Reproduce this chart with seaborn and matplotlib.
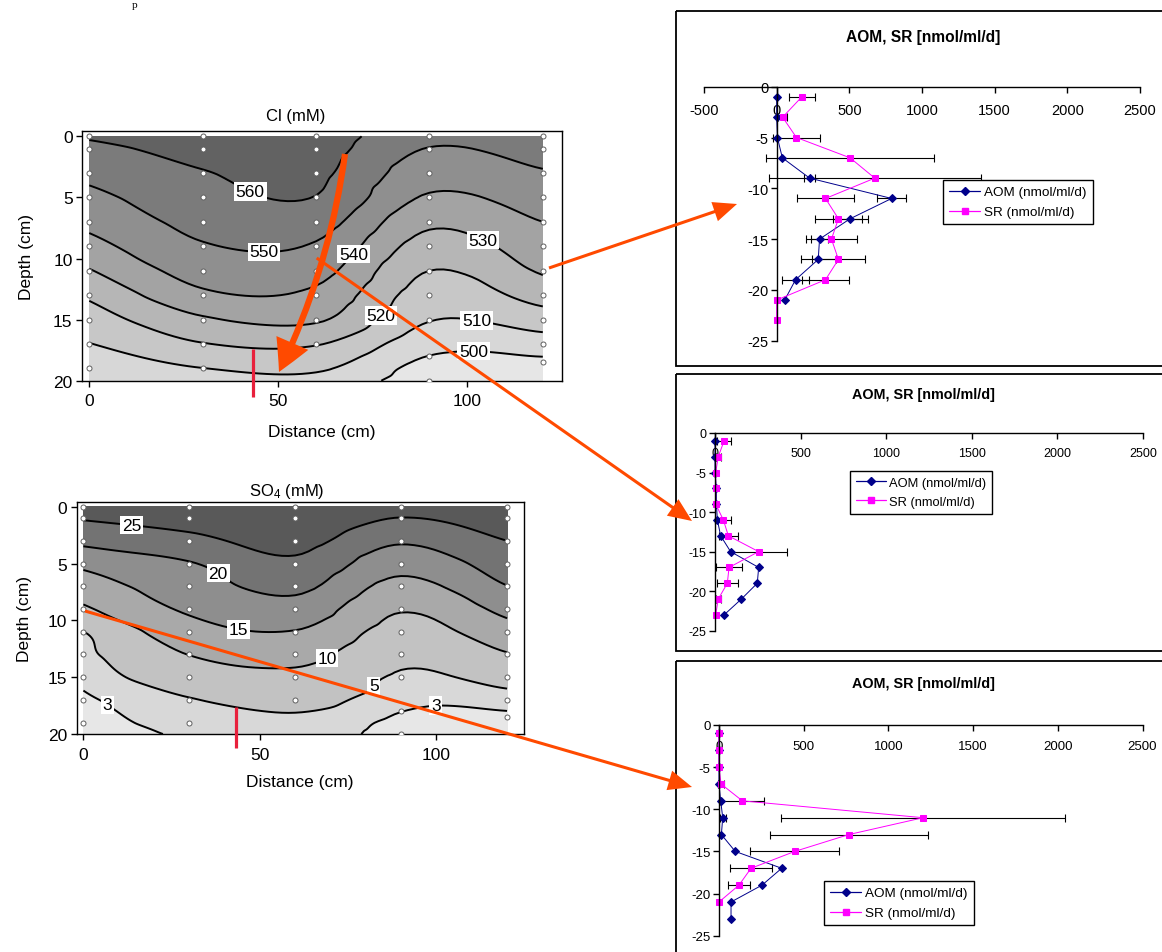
import numpy as np
import matplotlib
matplotlib.use("Agg")
import matplotlib.pyplot as plt
import matplotlib.tri as mtri
from matplotlib.patches import FancyArrowPatch, Rectangle
from matplotlib.lines import Line2D
import seaborn as sns

# ------------------------------------------------------------------ data
# sampling grid of the pore-water transect (distance in cm, depth in cm)
dist_cols = [0, 30, 60, 90, 120]
grid_depths = [0, 1, 3, 5, 7, 9, 11, 13, 15, 17, 19, 20]

# chloride (mM) per column, values at grid_depths
cl_x0 = [561.0, 557.7, 552.6, 547.5, 542.6, 536.6, 529.4, 521.6, 515.4, 509.7, 504.0, 501.2]
cl_x30 = [564.0, 562.8, 559.5, 556.1, 552.8, 549.2, 544.1, 538.1, 528.6, 519.5, 509.8, 505.0]
cl_x60 = [565.0, 564.0, 562.0, 559.7, 554.3, 548.9, 543.5, 537.7, 531.3, 520.6, 511.4, 507.0]
cl_x90 = [552.4, 549.7, 544.4, 538.9, 532.0, 525.9, 520.0, 515.2, 510.5, 503.6, 496.4, 494.6]
cl_x120 = [556.2, 553.9, 549.2, 544.6, 540.0, 535.6, 531.1, 524.0, 515.0, 505.2, 495.7, 493.0]
cl_levels = [500, 510, 520, 530, 540, 550, 560]

# sulfate (mM) per column, values at grid_depths
so4_x0 = [27.6, 25.4, 21.2, 16.1, 12.6, 9.3, 4.96, 4.2, 3.5, 2.7, 2.2, 2.0]
so4_x30 = [29.5, 27.5, 23.5, 19.7, 17.7, 15.7, 13.1, 10.1, 7.3, 4.8, 3.8, 3.3]
so4_x60 = [30.0, 29.6, 26.8, 24.0, 21.2, 18.1, 14.8, 11.7, 8.8, 6.2, 4.3, 4.0]
so4_x90 = [27.0, 24.9, 20.6, 16.9, 13.5, 10.4, 8.2, 6.1, 4.55, 3.55, 2.6, 2.4]
so4_x120 = [28.8, 27.5, 25.0, 22.5, 19.9, 16.4, 13.0, 9.7, 6.45, 3.8, 2.4, 2.2]
so4_levels = [3, 5, 10, 15, 20, 25]

# sampling points (dots) per column
dots_std = [0, 1, 3, 5, 7, 9, 11, 13, 15, 17, 19]
cl_dots = {0: dots_std, 30: dots_std, 60: [0, 1, 3, 5, 7, 9, 11, 13, 15, 17],
           90: [0, 1, 3, 5, 7, 9, 11, 13, 15, 18, 20], 120: [0, 1, 3, 5, 7, 9, 11, 13, 15, 17, 18.5]}
so4_dots = {0: dots_std, 30: dots_std, 60: [0, 1, 3, 5, 7, 9, 11, 13, 15, 17],
            90: [0, 1, 3, 5, 7, 9, 11, 13, 15, 18, 20], 120: [0, 1, 3, 5, 7, 9, 11, 13, 15, 17, 18.5]}

# rate profiles (nmol/ml/d) vs depth (cm)
depth = [-1, -3, -5, -7, -9, -11, -13, -15, -17, -19, -21, -23]

aom1 = [0, 0, 5, 39, 227, 791, 505, 295, 286, 130, 55, np.nan]
aom1_err = [0, 0, 0, 0, 40, 100, 120, 57, 120, 90, 0, 0]
sr1 = [173, 41, 136, 505, 675, 336, 425, 377, 425, 336, 0, 0]
sr1_err = [90, 32, 164, 580, 730, 193, 164, 173, 184, 160, 0, 0]

aom2 = [0, 0, 0, 8, 8, 14, 33, 91, 255, 247, 154, 53]
aom2_err = [0] * 12
sr2 = [53, 19, 4, 4, 4, 49, 78, 255, 82, 72, 19, 4]
sr2_err = [39, 14, 0, 0, 0, 47, 55, 163, 74, 60, 14, 0]

aom3 = [0, 0, 0, 0, 10, 22, 14, 96, 370, 254, 71, 71]
aom3_err = [0, 0, 0, 0, 0, 18, 0, 0, 0, 0, 0, 0]
sr3 = [0, 0, 0, 12, 138, 1205, 766, 447, 189, 118, 0, np.nan]
sr3_err = [0, 0, 0, 20, 130, 840, 467, 262, 125, 67, 0, 0]

# ------------------------------------------------------------------ style
sns.set_theme(style="white")
plt.rcParams["font.family"] = ["Liberation Sans", "DejaVu Sans"]
plt.rcParams["axes.unicode_minus"] = False
plt.rcParams["mathtext.fontset"] = "custom"
plt.rcParams["mathtext.rm"] = "Liberation Sans"
plt.rcParams["text.color"] = "black"
plt.rcParams["axes.edgecolor"] = "black"
plt.rcParams["xtick.color"] = "black"
plt.rcParams["ytick.color"] = "black"

W, H = 1162, 953
fig = plt.figure(figsize=(W / 100, H / 100), dpi=100)
fig.patch.set_facecolor("white")


def px_rect(l, t, r, b):
    return [l / W, 1 - b / H, (r - l) / W, (b - t) / H]


def ftext(x, y, s, **kw):
    fig.text(x / W, 1 - y / H, s, **kw)


ORANGE = "#ff4a00"
NAVY = "#00008b"
MAGENTA = "#ff00ff"


def build_tri(cols):
    X, D = np.meshgrid(dist_cols, grid_depths)
    nr, nc = X.shape
    tris = []
    for i in range(nr - 1):
        for j in range(nc - 1):
            a = i * nc + j
            b = a + 1
            c = a + nc
            d = c + 1
            tris.append([a, b, d])
            tris.append([a, d, c])
    Z = np.array(cols).T
    tri = mtri.Triangulation(X.ravel().astype(float), D.ravel().astype(float), np.array(tris))
    return tri, Z.ravel()


def contour_panel(rect, xlim, ylim_top, cols, levels, fill_levels, fill_colors,
                  dots, label_pos, title, title_xy, xlab_xy, ylab_xy):
    ax = fig.add_axes(px_rect(*rect))
    tri, z = build_tri(cols)
    interp = mtri.CubicTriInterpolator(tri, z, kind="geom")
    refiner = mtri.UniformTriRefiner(tri)
    tri_r, z_r = refiner.refine_field(z, triinterpolator=interp, subdiv=4)
    ax.tricontourf(tri_r, z_r, levels=fill_levels, colors=fill_colors)
    cs = ax.tricontour(tri_r, z_r, levels=levels, colors="black", linewidths=1.4)
    labels = ax.clabel(cs, levels, inline=False, fmt="%d", fontsize=12.5,
                       manual=label_pos)
    for t in labels:
        t.set_rotation(0)
        t.set_bbox(dict(boxstyle="square,pad=0.1", fc="white", ec="none"))
        t.set_zorder(6)
    dx, dd = [], []
    for c in dist_cols:
        for d in dots[c]:
            dx.append(c)
            dd.append(d)
    sns.scatterplot(x=dx, y=dd, ax=ax, s=13, color="white", edgecolor="#606060",
                    linewidth=0.7, zorder=5, legend=False)
    ax.set_xlim(*xlim)
    ax.set_ylim(20, ylim_top)
    ax.set_xticks([0, 50, 100])
    ax.set_xticks([25, 75], minor=True)
    ax.set_yticks([0, 5, 10, 15, 20])
    ax.tick_params(axis="both", which="major", direction="out", length=4, width=1,
                   labelsize=12.5)
    ax.tick_params(axis="x", which="major", pad=5, bottom=True)
    ax.tick_params(axis="y", which="major", pad=3, left=True)
    ax.tick_params(axis="x", which="minor", direction="in", length=3, bottom=True)
    for sp in ax.spines.values():
        sp.set_color("black")
        sp.set_linewidth(1.0)
    ax.set_xlabel("")
    ax.set_ylabel("")
    ftext(*title_xy, title, ha="center", va="center", fontsize=12)
    ftext(*xlab_xy, "Distance (cm)", ha="center", va="center", fontsize=12.5)
    ftext(*ylab_xy, "Depth (cm)", ha="center", va="center", fontsize=12.5, rotation=90)
    return ax


# ---------------- Cl panel
contour_panel(
    rect=(82.3, 131.7, 561.7, 381.7), xlim=(-1.85, 125), ylim_top=-0.46,
    cols=[cl_x0, cl_x30, cl_x60, cl_x90, cl_x120], levels=cl_levels,
    fill_levels=[440, 500, 510, 520, 530, 540, 550, 560, 620],
    fill_colors=["#e6e6e6", "#d7d7d7", "#c7c7c7", "#b6b6b6", "#a3a3a3",
                 "#8f8f8f", "#7b7b7b", "#626262"],
    dots=cl_dots,
    label_pos=[(42.5, 4.6), (46.2, 9.7), (70.7, 10.0), (103.4, 9.1),
               (77.3, 14.7), (102.5, 15.1), (101.6, 18.1)],
    title="Cl (mM)", title_xy=(296, 117), xlab_xy=(322, 433), ylab_xy=(27, 257))

# ---------------- SO4 panel
contour_panel(
    rect=(76.7, 502.7, 524.3, 735.0), xlim=(-1.9, 124.9), ylim_top=-0.44,
    cols=[so4_x0, so4_x30, so4_x60, so4_x90, so4_x120], levels=so4_levels,
    fill_levels=[-5, 3, 5, 10, 15, 20, 25, 40],
    fill_colors=["#e7e7e7", "#d8d8d8", "#c2c2c2", "#a9a9a9", "#8e8e8e",
                 "#737373", "#595959"],
    dots=so4_dots,
    label_pos=[(13.5, 1.9), (37.1, 6.4), (43.7, 11.0), (68.2, 13.0),
               (80.5, 15.3), (6.4, 17.6), (99.9, 17.9)],
    title=r"$\mathregular{SO_4}$ (mM)", title_xy=(287, 492), xlab_xy=(300, 782),
    ylab_xy=(25, 619))


# ---------------- rate profile panels
def profile_panel(rect, xlim, xticks, aom, aom_err, sr, sr_err, title_y,
                  leg_xy, fs_tick, fs_leg, fs_title, xpad):
    ax = fig.add_axes(px_rect(*rect))
    ax.set_facecolor("none")
    sns.lineplot(x=aom, y=depth, ax=ax, sort=False, estimator=None, color=NAVY,
                 linewidth=0.7, marker="D", markersize=4.5, markeredgecolor=NAVY,
                 clip_on=False, legend=False)
    sns.lineplot(x=sr, y=depth, ax=ax, sort=False, estimator=None, color=MAGENTA,
                 linewidth=0.7, marker="s", markersize=4.8, markeredgecolor=MAGENTA,
                 clip_on=False, legend=False)
    for vals, errs in ((aom, aom_err), (sr, sr_err)):
        v = np.array(vals, float)
        e = np.array(errs, float)
        dp = np.array(depth, float)
        m = (e > 0) & ~np.isnan(v)
        ax.errorbar(v[m], dp[m], xerr=e[m], fmt="none", ecolor="black",
                    elinewidth=0.8, capsize=3, capthick=0.8, zorder=1, clip_on=False)
    ax.set_xlim(*xlim)
    ax.set_ylim(-25, 0)
    ax.set_xticks(xticks)
    ax.set_xticklabels([str(t) for t in xticks])
    ax.set_yticks([0, -5, -10, -15, -20, -25])
    ax.set_yticklabels(["0", "-5", "-10", "-15", "-20", "-25"])
    ax.spines["left"].set_position(("data", 0))
    ax.spines["bottom"].set_position(("data", 0))
    ax.spines["top"].set_visible(False)
    ax.spines["right"].set_visible(False)
    for s in ("left", "bottom"):
        ax.spines[s].set_color("black")
        ax.spines[s].set_linewidth(1.0)
    ax.tick_params(axis="x", direction="out", length=4, width=1, labelsize=fs_tick,
                   pad=xpad, bottom=True)
    ax.tick_params(axis="y", direction="out", length=4, width=1, labelsize=fs_tick,
                   pad=2, left=True)
    ax.set_xlabel("")
    ax.set_ylabel("")
    ftext(923, title_y, "AOM, SR [nmol/ml/d]", ha="center", va="center",
          fontsize=fs_title, fontweight="bold")
    handles = [Line2D([], [], color=NAVY, lw=0.9, marker="D", ms=4.5),
               Line2D([], [], color=MAGENTA, lw=0.9, marker="s", ms=4.8)]
    leg = ax.legend(handles, ["AOM (nmol/ml/d)", "SR (nmol/ml/d)"], loc="upper left",
                    bbox_to_anchor=(leg_xy[0] / W, 1 - leg_xy[1] / H),
                    bbox_transform=fig.transFigure, frameon=True, fancybox=False,
                    edgecolor="black", framealpha=1, fontsize=fs_leg, borderaxespad=0,
                    handlelength=2.3, handletextpad=0.3, borderpad=0.45,
                    labelspacing=0.55)
    leg.get_frame().set_linewidth(1.0)
    return ax


profile_panel((704, 87.7, 1140, 341.7), (-500, 2500), [-500, 0, 500, 1000, 1500, 2000, 2500],
              aom1, aom1_err, sr1, sr1_err, 38, (943, 181), 10.5, 9.7, 11.2, 8)
profile_panel((715, 434, 1143, 631.7), (0, 2500), [0, 500, 1000, 1500, 2000, 2500],
              aom2, aom2_err, sr2, sr2_err, 395, (850, 472), 9, 9.3, 10.4, 6)
profile_panel((719, 726, 1142.5, 936.7), (0, 2500), [0, 500, 1000, 1500, 2000, 2500],
              aom3, aom3_err, sr3, sr3_err, 684, (824, 882), 9.5, 9.7, 10.4, 7)

# ---------------- overlay: panel frames, arrows, markers
ov = fig.add_axes([0, 0, 1, 1], zorder=20)
ov.set_xlim(0, W)
ov.set_ylim(H, 0)
ov.axis("off")
ov.patch.set_alpha(0)

for (t, b) in ((12, 367), (375, 652), (662, 960)):
    ov.add_patch(Rectangle((676, t), 520, b - t, fill=False, ec="black", lw=1.3,
                           clip_on=False))

ov.text(135, 1, "p", family="Liberation Serif", fontsize=8, ha="center", va="top")

# red core markers
ov.plot([252.7, 252.7], [350, 397.7], color="#e8203c", lw=2.3, solid_capstyle="butt")
ov.plot([235.7, 235.7], [708, 749.3], color="#e8203c", lw=2.3, solid_capstyle="butt")

# big curved arrow in Cl panel
ov.add_patch(FancyArrowPatch((345, 155), (279, 373), connectionstyle="arc3,rad=-0.08",
                             arrowstyle="simple,head_length=2.3,head_width=2.5,tail_width=0.45",
                             mutation_scale=10, color=ORANGE, lw=0, shrinkA=0, shrinkB=0))
# connector arrows
for a, b in (((316.7, 259), (692, 522)), ((549, 269), (737, 205)), ((85, 612), (692, 788))):
    ov.add_patch(FancyArrowPatch(a, b, arrowstyle="simple,head_length=1.7,head_width=1.45,tail_width=0.22",
                                 mutation_scale=10, color=ORANGE, lw=0, shrinkA=0, shrinkB=0))

fig.savefig("out.png", dpi=100, facecolor="white")
